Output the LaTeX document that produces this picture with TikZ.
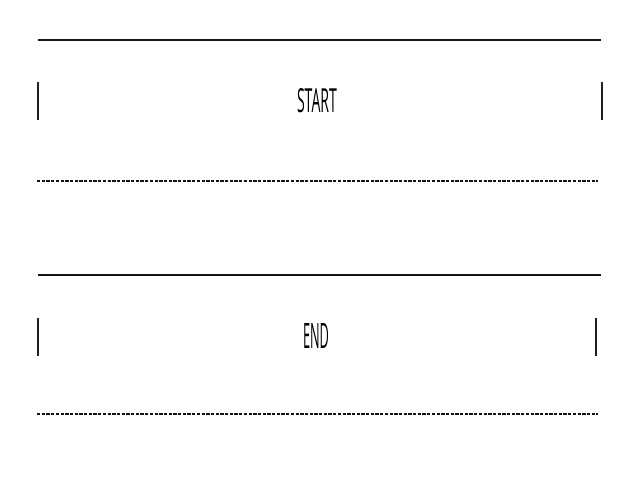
\documentclass[tikz,border=0pt]{standalone}
\usepackage{fontspec}
\setmainfont{Open Sans}
\begin{document}
\begin{tikzpicture}[x=1pt,y=-1pt,
  rule/.style={line width=2.4pt,draw=black!92},
  tick/.style={line width=1.7pt,draw=black!88},
  dashrule/.style={line width=2.2pt,draw=black!92,dash pattern=on 3.3pt off 1.4pt},
  lbl/.style={inner sep=0pt,text=black}]
\useasboundingbox[fill=white] (0,0) rectangle (640,480);
% first block
\draw[rule] (38,40) -- (601,40);
\draw[tick] (38,82) -- (38,120);
\draw[tick] (602,82) -- (602,120);
\node[lbl] (start) at (317,101) {\resizebox{40pt}{24pt}{START}};
\draw[dashrule] (37,181) -- (598,181);
% second block
\draw[rule] (38,275) -- (601,275);
\draw[tick] (38,318) -- (38,356);
\draw[tick] (596,318) -- (596,356);
\node[lbl] (end) at (316,335.5) {\resizebox{26pt}{25pt}{END}};
\draw[dashrule] (37,414) -- (598,414);
\end{tikzpicture}
\end{document}
